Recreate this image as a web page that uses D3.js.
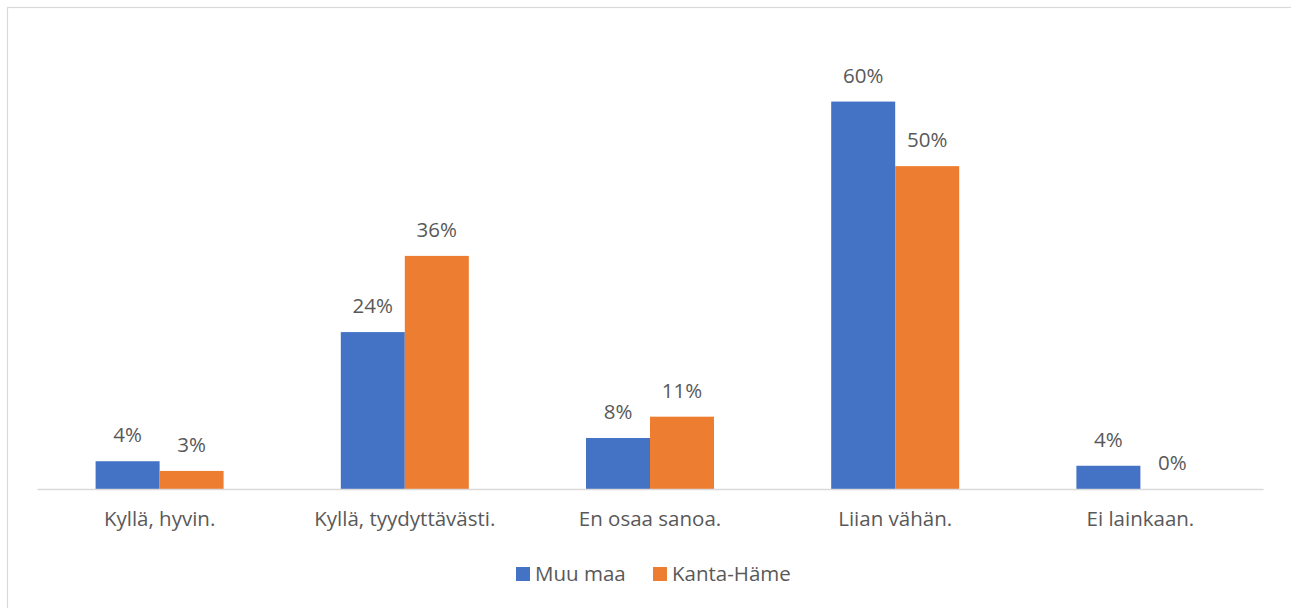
<!DOCTYPE html>
<html>
<head>
<meta charset="utf-8">
<script src="https://cdn.jsdelivr.net/npm/d3@7"></script>
<style>
  body { margin: 0; background: #fff; }
  text { font-family: "Open Sans", sans-serif; fill: #595959; }
</style>
</head>
<body>
<div id="svg-container"></div>
<script>
// data
var categories = ["Kyllä, hyvin.", "Kyllä, tyydyttävästi.", "En osaa sanoa.", "Liian vähän.", "Ei lainkaan."];
var seriesNames = ["Muu maa", "Kanta-Häme"];
var muuMaa = [4.3, 24.3, 7.9, 60, 3.6];
var kantaHame = [2.8, 36.1, 11.2, 50, 0];
var colors = ["#4472C4", "#ED7D31"];

var seriesValues = [muuMaa, kantaHame];
var fs = "20.5px";

var svg = d3.select("#svg-container").append("svg").attr("width", 1291).attr("height", 608);

// chart border (only top/left visible in frame)
svg.append("rect").attr("x", 7.5).attr("y", 7.5).attr("width", 1300).attr("height", 620)
  .attr("fill", "none").attr("stroke", "#d9d9d9").attr("stroke-width", 1.2);

var x0 = d3.scaleBand().domain(categories).range([37, 1263]).paddingInner(0.478).paddingOuter(0.239);
var x1 = d3.scaleBand().domain(seriesNames).range([0, x0.bandwidth()]);
var y = d3.scaleLinear().domain([0, 70]).range([489, 37]);

var groups = svg.selectAll("g.grp").data(categories).enter().append("g")
  .attr("class", "grp")
  .attr("transform", function(d) { return "translate(" + x0(d) + ",0)"; });

seriesNames.forEach(function(s, si) {
  groups.append("rect")
    .attr("x", x1(s))
    .attr("y", function(d, i) { return y(seriesValues[si][i]); })
    .attr("width", x1.bandwidth())
    .attr("height", function(d, i) { return y(0) - y(seriesValues[si][i]); })
    .attr("fill", colors[si]);
  groups.append("text")
    .attr("x", x1(s) + x1.bandwidth() / 2)
    .attr("y", function(d, i) { return y(seriesValues[si][i]) - 19; })
    .attr("text-anchor", "middle")
    .style("font-size", fs)
    .text(function(d, i) { return Math.round(seriesValues[si][i]) + "%"; });
});

// baseline axis
var xAxis = d3.axisBottom(x0).tickSize(0).tickPadding(0);
var ax = svg.append("g").attr("transform", "translate(0," + y(0) + ")").call(xAxis);
ax.select(".domain").attr("stroke", "#d9d9d9").attr("stroke-width", 1.5);
ax.selectAll(".tick text").attr("dy", null).attr("y", 37)
  .style("font-size", fs).style("font-family", "'Open Sans', sans-serif").attr("fill", "#595959");

// legend
var legendX = [516, 653];
var legend = svg.selectAll("g.leg").data(seriesNames).enter().append("g")
  .attr("class", "leg")
  .attr("transform", function(d, i) { return "translate(" + legendX[i] + ",567)"; });
legend.append("rect").attr("width", 14).attr("height", 14).attr("fill", function(d, i) { return colors[i]; });
legend.append("text").attr("x", 19).attr("y", 13.5).style("font-size", fs).text(function(d) { return d; });
</script>
</body>
</html>
